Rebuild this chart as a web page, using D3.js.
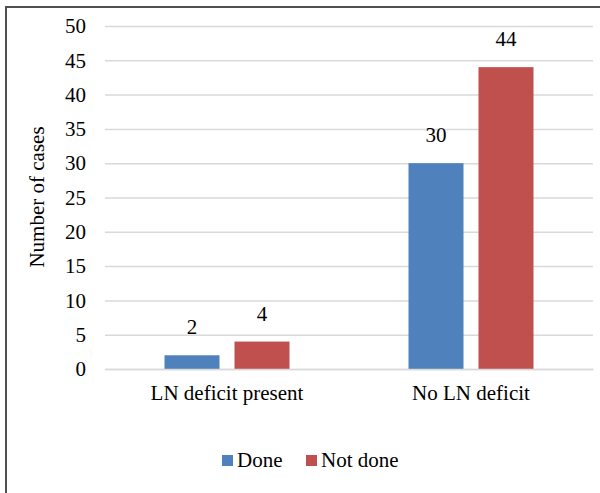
<!DOCTYPE html>
<html><head><meta charset="utf-8">
<script src="https://cdn.jsdelivr.net/npm/d3@7"></script>
<style>body{margin:0;background:#fff}svg{display:block}svg text{font-family:"Liberation Serif","Times New Roman",serif !important;fill:#000}</style>
</head><body>
<svg id="c" width="600" height="493"></svg>
<script>
const categories = ["LN deficit present", "No LN deficit"];
const seriesNames = ["Done", "Not done"];
const doneValues = [2, 30];
const notDoneValues = [4, 44];
const yTicks = [0, 5, 10, 15, 20, 25, 30, 35, 40, 45, 50];
const colors = ["#4f81bd", "#c0504d"];

const svg = d3.select("#c");
const fs = 21;
const serif = "'Liberation Serif', 'Times New Roman', serif";
svg.append("rect").attr("x", 6).attr("y", 7).attr("width", 620).attr("height", 520)
  .attr("fill", "none").attr("stroke", "#505050").attr("stroke-width", 2);

const plot = {left: 105, right: 593, top: 26, bottom: 369};
const y = d3.scaleLinear().domain([0, 50]).range([plot.bottom, plot.top]);
const x0 = d3.scaleBand().domain(categories).range([plot.left, plot.right]);
const x1 = d3.scaleBand().domain(seriesNames).range([0, 125]).paddingInner(15 / 70);

// gridlines
const yAxis = d3.axisLeft(y).tickValues(yTicks).tickSize(-(plot.right - plot.left)).tickPadding(19);
const gy = svg.append("g").attr("transform", `translate(${plot.left},0)`).call(yAxis)
  .attr("font-family", null).attr("font-size", null);
gy.select(".domain").remove();
gy.selectAll(".tick line").attr("stroke", "#d9d9d9").attr("stroke-width", 1.5);
gy.selectAll(".tick text").style("font-size", fs + "px").style("font-family", serif).attr("fill", "#000");

const data = categories.map((c, i) => ({cat: c, vals: [doneValues[i], notDoneValues[i]]}));
const groups = svg.append("g").selectAll("g").data(data).join("g")
  .attr("transform", d => `translate(${x0(d.cat) + x0.bandwidth() / 2 - 62.5},0)`);
groups.selectAll("rect").data(d => d.vals.map((v, j) => ({v, s: seriesNames[j], j})))
  .join("rect")
  .attr("x", d => x1(d.s)).attr("width", x1.bandwidth())
  .attr("y", d => y(d.v)).attr("height", d => y(0) - y(d.v))
  .attr("fill", d => colors[d.j]);
groups.selectAll("text").data(d => d.vals.map((v, j) => ({v, s: seriesNames[j]})))
  .join("text")
  .attr("x", d => x1(d.s) + x1.bandwidth() / 2).attr("y", d => y(d.v) - 21)
  .attr("text-anchor", "middle").style("font-size", fs + "px").text(d => d.v);

// category axis
const xAxis = d3.axisBottom(x0).tickSize(0).tickPadding(16);
const gx = svg.append("g").attr("transform", `translate(0,${plot.bottom})`).call(xAxis)
  .attr("font-family", null).attr("font-size", null);
gx.select(".domain").attr("stroke", "#d9d9d9").attr("stroke-width", 1.5);
gx.selectAll(".tick text").style("font-size", fs + "px").style("font-family", serif).attr("fill", "#000");

// y title
svg.append("text").attr("transform", "translate(44,197) rotate(-90)")
  .attr("text-anchor", "middle").style("font-size", fs + "px").text("Number of cases");

// legend
const legX = [222, 306];
const leg = svg.append("g").selectAll("g").data(seriesNames).join("g")
  .attr("transform", (d, i) => `translate(${legX[i]},455)`);
leg.append("rect").attr("width", 11).attr("height", 11).attr("fill", (d, i) => colors[i]);
leg.append("text").attr("x", 15).attr("y", 12).style("font-size", fs + "px").text(d => d);
</script>
</body></html>
